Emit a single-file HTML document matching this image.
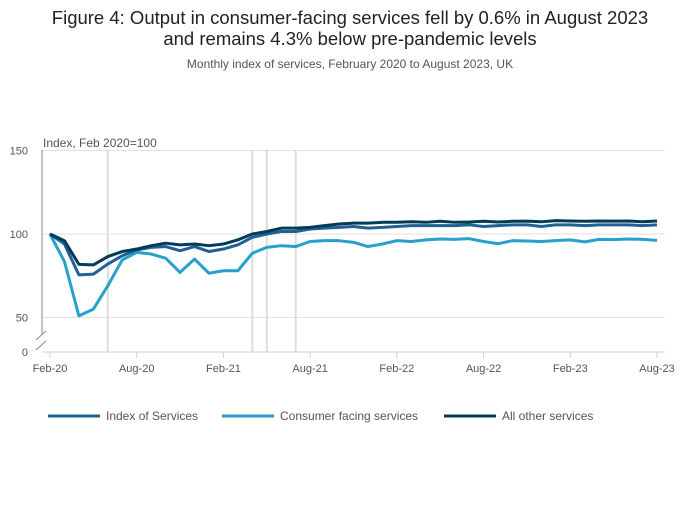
<!DOCTYPE html>
<html><head><meta charset="utf-8"><style>
body{margin:0;background:#fff;font-family:"Liberation Sans",sans-serif;}
svg text{font-family:"Liberation Sans",sans-serif;}
</style></head><body>
<svg width="700" height="502" id="c">
<text x="350" y="24" text-anchor="middle" font-size="18.5" fill="#222">Figure 4: Output in consumer-facing services fell by 0.6% in August 2023</text>
<text x="350" y="45" text-anchor="middle" font-size="18.5" fill="#222">and remains 4.3% below pre-pandemic levels</text>
<text x="350" y="68" text-anchor="middle" font-size="12" fill="#555">Monthly index of services, February 2020 to August 2023, UK</text>
<text x="43" y="147" font-size="12" fill="#555">Index, Feb 2020=100</text>
<g id="grid"></g>
<g id="marks"></g>
<g id="axes"></g>
<g id="legend"></g>
</svg>
<script>
const months=['Feb-20','Mar-20','Apr-20','May-20','Jun-20','Jul-20','Aug-20','Sep-20','Oct-20','Nov-20','Dec-20','Jan-21','Feb-21','Mar-21','Apr-21','May-21','Jun-21','Jul-21','Aug-21','Sep-21','Oct-21','Nov-21','Dec-21','Jan-22','Feb-22','Mar-22','Apr-22','May-22','Jun-22','Jul-22','Aug-22','Sep-22','Oct-22','Nov-22','Dec-22','Jan-23','Feb-23','Mar-23','Apr-23','May-23','Jun-23','Jul-23','Aug-23'];
const indexServices=[100,94,75.5,76,82,87,90.5,92,92.5,90,92.5,89.5,91,93.5,98,100,101.5,101.5,103,103.5,104,104.5,103.5,104,104.5,105,105,105,105,105.5,104.5,105,105.5,105.5,104.5,105.5,105.5,105,105.5,105.5,105.5,105,105.5];
const consumerFacing=[100,83.5,51,55,69,84.5,89,88,85.5,77,85,76.5,78,78,88.5,92,93,92.5,95.5,96,96,95,92.5,94,96,95.5,96.5,97,96.8,97.2,95.5,94.2,96,95.8,95.5,96,96.5,95.3,96.8,96.6,97,96.8,96.2];
const otherServices=[100,96,81.8,81.5,86.5,89.5,91,93,94.5,93.5,94,93,94,96.5,100,101.5,103.5,103.5,104,105,106,106.5,106.5,107,107,107.3,107,107.6,107,107.2,107.6,107.2,107.6,107.7,107.3,108,107.8,107.6,107.8,107.7,107.8,107.3,107.8];
const yTicks=[50,100,150];
const xTickLabels=['Feb-20','Aug-20','Feb-21','Aug-21','Feb-22','Aug-22','Feb-23','Aug-23'];
const markerMonths=['Jun-20','Apr-21','May-21','Jul-21'];
const NS='http://www.w3.org/2000/svg';
const X=i=>50+i*(607/42);
const Y=v=>234-(v-100)*1.67;
function mk(t,a,p){const e=document.createElementNS(NS,t);for(const k in a)e.setAttribute(k,a[k]);p.appendChild(e);return e;}
const grid=document.getElementById('grid'),marks=document.getElementById('marks'),axes=document.getElementById('axes'),legend=document.getElementById('legend');
yTicks.forEach(v=>{
 const l=mk('line',{x1:42,x2:665,y1:Y(v),y2:Y(v),stroke:'#e2e2e2','stroke-width':1},grid);
 
 
 const t=mk('text',{x:28,y:Y(v)+4,'text-anchor':'end','font-size':11,fill:'#555'},axes);t.textContent=v;
 
 
});
const z=mk('text',{x:28,y:356,'text-anchor':'end','font-size':11,fill:'#555'},axes);z.textContent='0';


markerMonths.forEach(m=>{
 const i=months.indexOf(m);
 const l=mk('line',{x1:X(i),x2:X(i),y1:150,y2:352,stroke:'#dcdcdc','stroke-width':2},grid);
 
 
});
mk('line',{x1:42,x2:42,y1:150,y2:334,stroke:'#888','stroke-width':1},axes);
mk('path',{d:'M36,340 L46,331 M36,350 L46,341',stroke:'#888','stroke-width':1,fill:'none'},axes);
mk('line',{x1:42,x2:665,y1:352,y2:352,stroke:'#c5d3e8','stroke-width':1},axes);
xTickLabels.forEach(m=>{
 const i=months.indexOf(m);
 mk('line',{x1:X(i),x2:X(i),y1:352,y2:358,stroke:'#c5d3e8'},axes);
 const t=mk('text',{x:X(i),y:372,'text-anchor':'middle','font-size':11,fill:'#555'},axes);t.textContent=m;
 
 
});
const series=[['consumer-facing-services-line',consumerFacing,'#27a0cc'],['index-of-services-line',indexServices,'#206095'],['all-other-services-line',otherServices,'#003c57']];
series.forEach(([n,d,c])=>{
 const p=mk('polyline',{points:d.map((v,i)=>X(i)+','+Y(v)).join(' '),fill:'none',stroke:c,'stroke-width':3,'stroke-linejoin':'round'},marks);
 
 
});
[['Index of Services','#206095',48],['Consumer facing services','#27a0cc',222],['All other services','#003c57',444]].forEach(([t,c,x])=>{
 const g=mk('g',{},legend);
 
 
 mk('line',{x1:x,x2:x+52,y1:416,y2:416,stroke:c,'stroke-width':3},g);
 const e=mk('text',{x:x+58,y:420,'font-size':12,fill:'#555'},g);e.textContent=t;
});
</script>
</body></html>
